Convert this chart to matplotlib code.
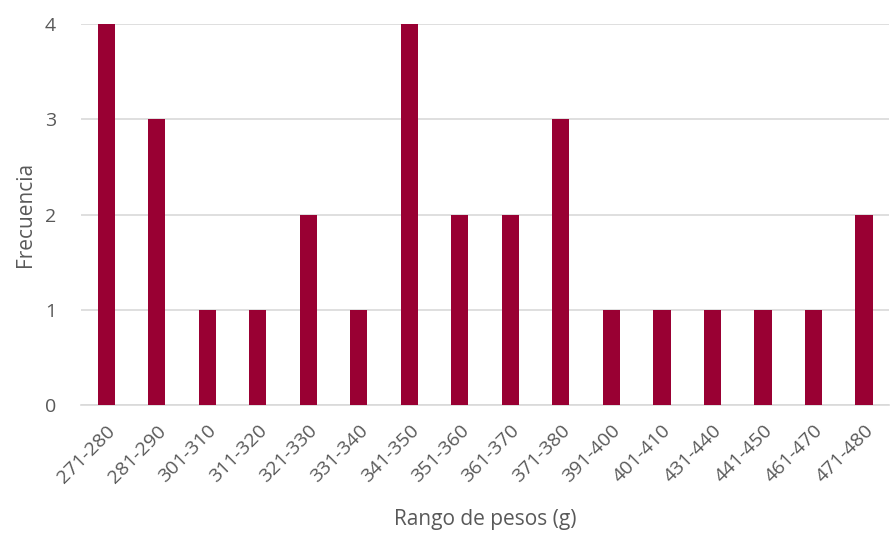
import matplotlib
matplotlib.use("Agg")
import matplotlib.pyplot as plt
import numpy as np

categories = ["271-280", "281-290", "301-310", "311-320", "321-330", "331-340",
              "341-350", "351-360", "361-370", "371-380", "391-400", "401-410",
              "431-440", "441-450", "461-470", "471-480"]
frecuencia = [4, 3, 1, 1, 2, 1, 4, 2, 2, 3, 1, 1, 1, 1, 1, 2]
yticks = [0, 1, 2, 3, 4]

plt.rcParams['font.family'] = ['Open Sans', 'DejaVu Sans']
txt = '#595959'

fig = plt.figure(figsize=(8.91, 5.38), dpi=100)
ax = fig.add_axes([0.091, 0.247, 0.907, 0.708])
x = np.arange(len(categories))
ax.bar(x, frecuencia, width=0.34, color='#990033', zorder=3)
ax.set_xlim(-0.5, len(categories) - 0.5)
ax.set_ylim(0, 4)
ax.set_yticks(yticks)
ax.set_yticklabels([str(v) for v in yticks])
ax.grid(axis='y', color='#d9d9d9', linewidth=1.2, zorder=0)
for s in ['top', 'right', 'left']:
    ax.spines[s].set_visible(False)
ax.spines['bottom'].set_color('#d9d9d9')
ax.spines['bottom'].set_linewidth(1.2)
ax.tick_params(axis='both', length=0, colors=txt, labelsize=14)
ax.tick_params(axis='y', pad=18)
ax.set_xticks(x)
ax.set_xticklabels(categories, rotation=45, ha='right', rotation_mode='anchor')
ax.tick_params(axis='x', pad=12)
ax.set_ylabel('Frecuencia', color=txt, fontsize=15, labelpad=6)
ax.set_xlabel('Rango de pesos (g)', color=txt, fontsize=15, labelpad=16)
fig.savefig('out.png', dpi=100)
